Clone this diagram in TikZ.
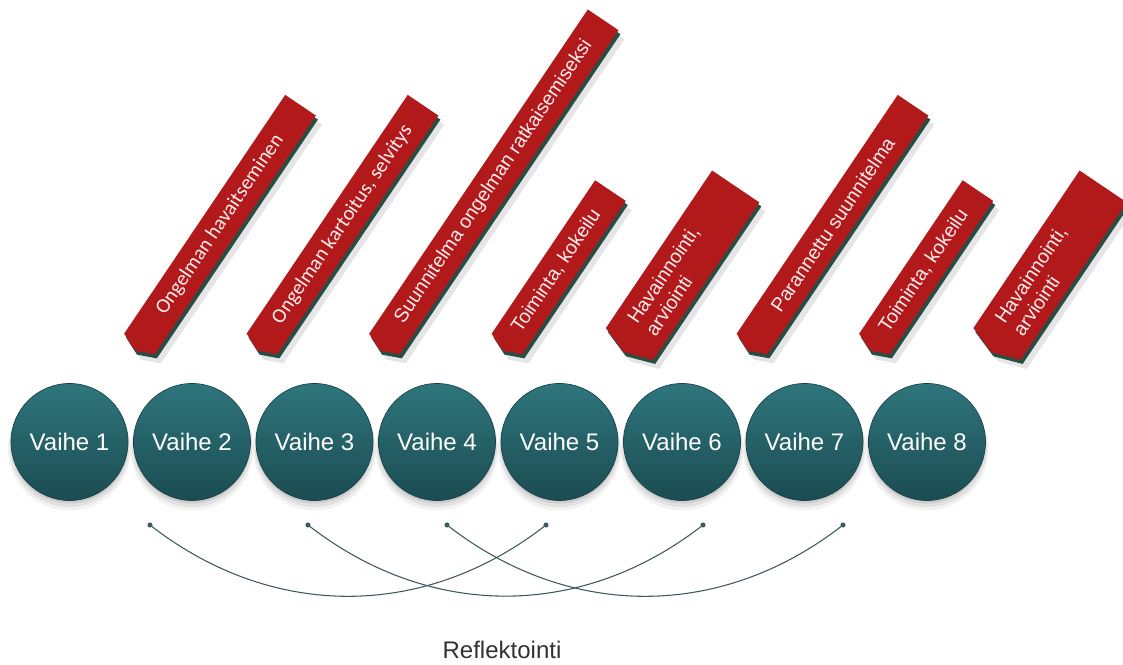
\documentclass[tikz,border=0pt]{standalone}
\usepackage{fontspec}
\setmainfont{Liberation Sans}
\newfontfamily\calfont{Carlito}
\definecolor{tealTop}{RGB}{46,118,124}
\definecolor{tealBot}{RGB}{27,76,82}
\definecolor{tealRim}{RGB}{24,66,72}
\definecolor{banRed}{RGB}{178,25,27}
\definecolor{banShadow}{RGB}{38,78,68}
\definecolor{arcGray}{RGB}{62,88,92}
\definecolor{txtGray}{RGB}{50,50,50}
% #1 x of bottom centre, #2 length, #3 width, #4 tip depth
\newcommand{\bannerbody}[4]{%
  \begin{scope}[shift={(#1+6,320-9)},rotate=56]
    \fill[black,opacity=0.10] (0,-#3/2) -- (#2,-#3/2) -- (#2,#3/2) -- (0,#3/2) -- (-#4,0) -- cycle;
  \end{scope}
  \begin{scope}[shift={(#1+2,320-4)},rotate=56]
    \fill[banShadow] (0,-#3/2) -- (#2,-#3/2) -- (#2,#3/2) -- (0,#3/2) -- (-#4,0) -- cycle;
  \end{scope}
  \begin{scope}[shift={(#1,320)},rotate=56]
    \fill[banRed] (0,-#3/2) -- (#2,-#3/2) -- (#2,#3/2) -- (0,#3/2) -- (-#4,0) -- cycle;
  \end{scope}}
\begin{document}
\begin{tikzpicture}[x=0.75pt,y=0.75pt,
  vaihe/.style={circle,minimum size=87.75pt,inner sep=0pt,top color=tealTop,bottom color=tealBot,draw=tealRim,line width=0.5pt,text=white,font=\fontsize{18}{21}\selectfont},
  bantextA/.style={transform shape,inner sep=0pt,text=white!93!red,font=\calfont\fontsize{15.4}{17}\selectfont},
  bantextB/.style={transform shape,inner sep=0pt,text=white!93!red,font=\fontsize{14.6}{16.5}\selectfont,align=left},
  dot/.style={circle,fill=arcGray,inner sep=0pt,minimum size=3.8pt},
  arcline/.style={draw=arcGray,line width=0.8pt},
]
\useasboundingbox (0,0) rectangle (1123,664);

% banners
\bannerbody{139.5}{288}{37}{8}
\bannerbody{262}{288}{37}{8}
\bannerbody{384.5}{391}{37}{8}
\bannerbody{507}{185}{37}{8}
\bannerbody{629.5}{190}{57}{10}
\bannerbody{752}{288}{37}{8}
\bannerbody{874.5}{185}{37}{8}
\bannerbody{997}{190}{57}{10}

\begin{scope}[shift={(139.5,320)},rotate=56]
  \node[bantextA] (t1) at (144,0) {Ongelman havaitseminen};
\end{scope}
\begin{scope}[shift={(262,320)},rotate=56]
  \node[bantextA] (t2) at (144,0) {Ongelman kartoitus, selvitys};
\end{scope}
\begin{scope}[shift={(384.5,320)},rotate=56]
  \node[bantextB] (t3) at (195.5,0) {Suunnitelma ongelman ratkaisemiseksi};
\end{scope}
\begin{scope}[shift={(507,320)},rotate=56]
  \node[bantextB] (t4) at (88,0) {Toiminta, kokeilu};
\end{scope}
\begin{scope}[shift={(629.5,320)},rotate=56]
  \node[bantextB,anchor=west] (t5) at (20,0) {Havainnointi,\\arviointi};
\end{scope}
\begin{scope}[shift={(752,320)},rotate=56]
  \node[bantextB] (t6) at (144,0) {Parannettu suunnitelma};
\end{scope}
\begin{scope}[shift={(874.5,320)},rotate=56]
  \node[bantextB] (t7) at (88,0) {Toiminta, kokeilu};
\end{scope}
\begin{scope}[shift={(997,320)},rotate=56]
  \node[bantextB,anchor=west] (t8) at (20,0) {Havainnointi,\\arviointi};
\end{scope}

% circle shadows
\foreach \i in {0,...,7} {
  \fill[black,opacity=0.05] ({69.5+122.5*\i},215) circle[radius=61.5];
  \fill[black,opacity=0.07] ({69.5+122.5*\i},217) circle[radius=60];
  \fill[black,opacity=0.09] ({69.5+122.5*\i},219) circle[radius=58.5];
}
% phases
\foreach \i in {1,...,8}
  \node[vaihe] (v\i) at ({69.5+122.5*(\i-1)},222) {Vaihe \i};

% reflection arcs
\node[dot] (d1) at (150,139) {};
\node[dot] (d2) at (308,139) {};
\node[dot] (d3) at (447,139) {};
\node[dot] (d4) at (546,139) {};
\node[dot] (d5) at (703,139) {};
\node[dot] (d6) at (843,139) {};
\draw[arcline] (d1.center) to[bend right=38] (d4.center);
\draw[arcline] (d2.center) to[bend right=38] (d5.center);
\draw[arcline] (d3.center) to[bend right=38] (d6.center);

\node[anchor=base,text=txtGray,font=\fontsize{18}{21}\selectfont] (refl) at (502,6) {Reflektointi};
\end{tikzpicture}
\end{document}
